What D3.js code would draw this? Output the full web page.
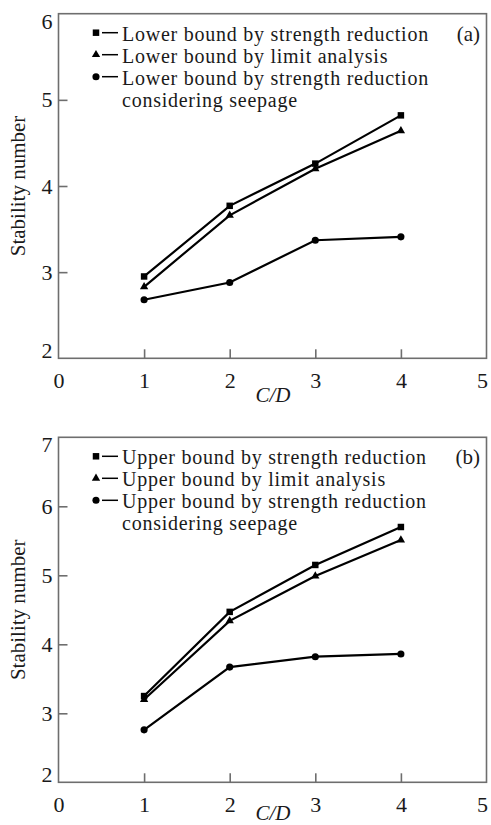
<!DOCTYPE html>
<html>
<head>
<meta charset="utf-8">
<script src="https://cdnjs.cloudflare.com/ajax/libs/d3/7.8.5/d3.min.js"></script>
<style>
body{margin:0;padding:0;background:#fff;}
svg{display:block;font-family:"Liberation Serif","Times New Roman",serif;}
</style>
</head>
<body>
<div id="chart"></div>
<script>
// C/D values on the x axis
var cd = [1, 2, 3, 4];
var xTicks = [0, 1, 2, 3, 4, 5];

// (a) lower bounds
var lowerSR = [2.95, 3.77, 4.26, 4.82];
var lowerLA = [2.83, 3.66, 4.20, 4.64];
var lowerSeep = [2.68, 2.88, 3.37, 3.41];
var lowerTicks = [2, 3, 4, 5, 6];
var lowerLabels = ["Lower bound by strength reduction", "Lower bound by limit analysis",
    "Lower bound by strength reduction", "considering seepage"];

// (b) upper bounds
var upperSR = [3.25, 4.47, 5.15, 5.70];
var upperLA = [3.20, 4.34, 4.99, 5.51];
var upperSeep = [2.76, 3.67, 3.82, 3.86];
var upperTicks = [2, 3, 4, 5, 6, 7];
var upperLabels = ["Upper bound by strength reduction", "Upper bound by limit analysis",
    "Upper bound by strength reduction", "considering seepage"];

var markers = ["square", "triangle", "circle"];
var frameCol = "#6e6e6e", textCol = "#1a1a1a";
var serif = "'Liberation Serif', 'Times New Roman', serif";

var svg = d3.select("#chart").append("svg")
    .attr("width", 491).attr("height", 825);

function symbolPath(type){
    if(type == "square") return d3.symbol(d3.symbolSquare, 42)();
    if(type == "triangle") return d3.symbol(d3.symbolTriangle, 30)();
    return d3.symbol(d3.symbolCircle, 40)();
}

function panel(top, bottom, yTicks, series, labels, tag, titleY){
    var left = 58.5, right = 486.5;
    var x = d3.scaleLinear().domain([0, 5]).range([left, right]);
    var y = d3.scaleLinear().domain([yTicks[0], yTicks[yTicks.length-1]]).range([bottom, top]);
    var g = svg.append("g");

    // frame
    g.append("rect").attr("x", left).attr("y", top)
        .attr("width", right-left).attr("height", bottom-top)
        .attr("fill", "none").attr("stroke", frameCol).attr("stroke-width", 1.6);

    // axes with inward ticks
    var xa = g.append("g").attr("transform", "translate(0," + bottom + ")")
        .call(d3.axisBottom(x).tickValues(xTicks).tickFormat(d3.format("d"))
            .tickSizeInner(-9).tickSizeOuter(0).tickPadding(14));
    var ya = g.append("g").attr("transform", "translate(" + left + ",0)")
        .call(d3.axisLeft(y).tickValues(yTicks).tickFormat(d3.format("d"))
            .tickSizeInner(-9).tickSizeOuter(0).tickPadding(6));
    [xa, ya].forEach(function(a){
        a.attr("font-family", serif);
        a.select(".domain").remove();
        a.selectAll("line").attr("stroke", frameCol).attr("stroke-width", 1.6);
        a.selectAll("text").attr("font-size", 22).attr("fill", textCol);
    });
    xa.selectAll(".tick").filter(function(d){return d == 0 || d == 5;}).select("line").remove();
    // last x label sits on the page edge, pull it in a little
    xa.selectAll(".tick text").filter(function(d){return d == 5;}).attr("dx", "-0.2em");
    ya.selectAll(".tick").filter(function(d, i){return i == 0 || i == yTicks.length-1;}).select("line").remove();
    ya.selectAll(".tick text").attr("dy", function(d, i){
        if(i == 0) return "-0.05em";
        if(i == yTicks.length-1) return "0.65em";
        return "0.32em";
    });

    // axis titles
    g.append("text").attr("transform", "translate(25," + ((top+bottom)/2) + ") rotate(-90)")
        .attr("text-anchor", "middle").attr("font-size", 21).attr("fill", textCol)
        .text("Stability number");
    g.append("text").attr("x", 273).attr("y", titleY)
        .attr("text-anchor", "middle").attr("font-size", 21).attr("font-style", "italic")
        .attr("fill", textCol).text("C/D");

    // series
    var line = d3.line().x(function(d){return x(d[0]);}).y(function(d){return y(d[1]);});
    series.forEach(function(vals, k){
        var pts = cd.map(function(c, i){return [c, vals[i]];});
        g.append("path").datum(pts).attr("d", line)
            .attr("fill", "none").attr("stroke", "#000").attr("stroke-width", 2.2);
        g.selectAll(".m" + k).data(pts).enter().append("path")
            .attr("transform", function(d){return "translate(" + x(d[0]) + "," + y(d[1]) + ")";})
            .attr("d", symbolPath(markers[k])).attr("fill", "#000");
    });

    // legend, rows packed tight as in the source figure
    var lg = g.append("g").attr("transform", "translate(0," + top + ")");
    labels.forEach(function(t, i){
        var cy = 19 + i*22;
        if(i < 3){
            lg.append("path").attr("transform", "translate(96," + cy + ")")
                .attr("d", symbolPath(markers[i])).attr("fill", "#000");
            lg.append("line").attr("x1", 102).attr("x2", 118).attr("y1", cy).attr("y2", cy)
                .attr("stroke", "#000").attr("stroke-width", 1.5);
        }
        lg.append("text").attr("x", 122).attr("y", cy + 8).attr("font-size", 20)
            .attr("letter-spacing", "0.75px").attr("fill", textCol).text(t);
    });
    lg.append("text").attr("x", 480).attr("y", 27).attr("text-anchor", "end")
        .attr("font-size", 21).attr("fill", textCol).text(tag);
}

panel(13.7, 358.3, lowerTicks, [lowerSR, lowerLA, lowerSeep], lowerLabels, "(a)", 402);
panel(437.3, 782.3, upperTicks, [upperSR, upperLA, upperSeep], upperLabels, "(b)", 820);
</script>
</body>
</html>
